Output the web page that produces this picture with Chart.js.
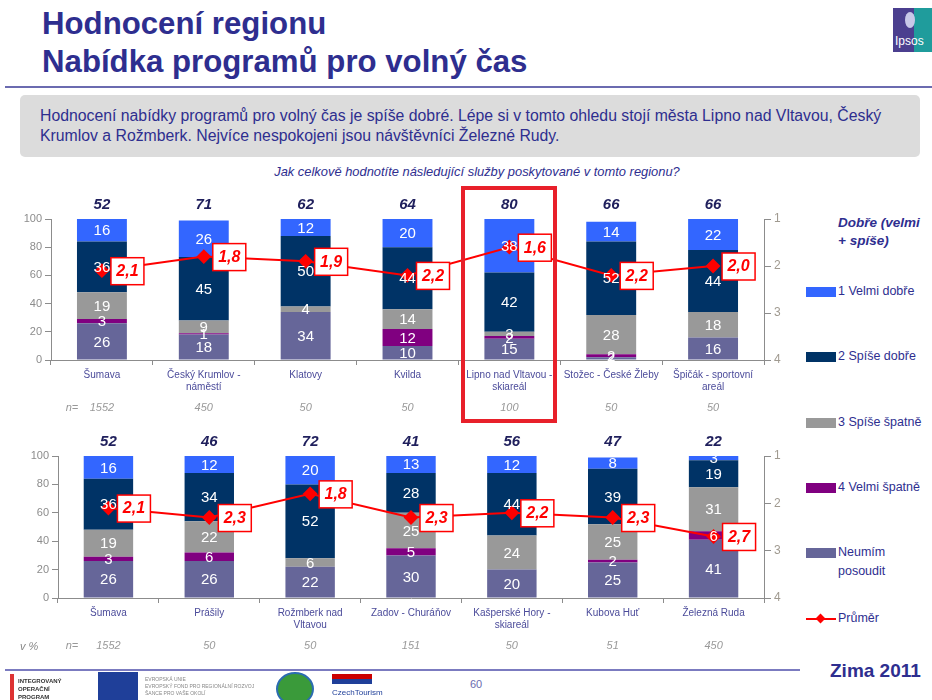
<!DOCTYPE html>
<html lang="cs">
<head>
<meta charset="utf-8">
<script src="https://cdn.jsdelivr.net/npm/chart.js@4.4.1/dist/chart.umd.min.js"></script>
<style>
  body { margin: 0; width: 932px; height: 700px; position: relative; overflow: hidden; background: #fff; font-family: "Liberation Sans", Arial, sans-serif; }
  .abs { position: absolute; }
  .title { left: 42px; color: #2e2e8f; font-family: "Liberation Sans Narrow", "Liberation Sans", Arial, sans-serif; font-weight: bold; font-size: 32px; line-height: 38px; top: 4px; transform: scaleX(0.975); transform-origin: left top; white-space: nowrap; }
  .rule { left: 5px; right: 0; top: 86px; height: 2px; background: #6b6bb0; }
  .box { left: 20px; top: 95px; width: 900px; height: 62px; background: #dcdcdc; border-radius: 5px; }
  .boxtext { left: 40px; top: 106px; width: 870px; color: #2e2e8f; font-size: 15.8px; line-height: 20px; }
  .question { left: 0; width: 954px; top: 164px; text-align: center; color: #2e2e8f; font-style: italic; font-size: 12.9px; }
  .legend { left: 806px; color: #2e2e8f; font-size: 12.5px; line-height: 19px; }
  .sw { position: absolute; left: 0; width: 30px; height: 10px; }
  .lt { position: absolute; left: 32px; white-space: nowrap; }
  canvas { position: absolute; left: 0; }
</style>
</head>
<body>
<div class="abs title">Hodnocení regionu<br>Nabídka programů pro volný čas</div>
<div class="abs" style="left:893px;top:8px;width:39px;height:44px;background:linear-gradient(90deg,#4b3f8f 0 55%,#1f9c9c 55%);"></div>
<div class="abs" style="left:905px;top:12px;width:10px;height:16px;border-radius:50%;background:#c8c8e8;"></div>
<div class="abs" style="left:895px;top:34px;color:#fff;font-size:12px;">Ipsos</div>
<div class="abs rule"></div>
<div class="abs box"></div>
<div class="abs boxtext">Hodnocení nabídky programů pro volný čas je spíše dobré. Lépe si v tomto ohledu stojí města Lipno nad Vltavou, Český Krumlov a Rožmberk. Nejvíce nespokojeni jsou návštěvníci Železné Rudy.</div>
<div class="abs question">Jak celkově hodnotíte následující služby poskytované v tomto regionu?</div>

<canvas id="chartTop" width="800" height="230" style="top:190px"></canvas>
<canvas id="chartBottom" width="800" height="230" style="top:430px"></canvas>

<div class="abs" style="left:461px;top:186px;width:88px;height:229px;border:4px solid #e8202a;"></div>

<div class="abs legend" style="top:214px;font-weight:bold;font-style:italic;font-size:13.5px;left:838px;line-height:18px;">Dobře (velmi<br>+ spíše)</div>
<div class="abs legend" style="top:282px;"><div class="sw" style="top:5px;background:#3366ff"></div><div class="lt">1 Velmi dobře</div></div>
<div class="abs legend" style="top:347px;"><div class="sw" style="top:5px;background:#003366"></div><div class="lt">2 Spíše dobře</div></div>
<div class="abs legend" style="top:413px;"><div class="sw" style="top:5px;background:#999999"></div><div class="lt">3 Spíše špatně</div></div>
<div class="abs legend" style="top:478px;"><div class="sw" style="top:5px;background:#800080"></div><div class="lt">4 Velmi špatně</div></div>
<div class="abs legend" style="top:543px;"><div class="sw" style="top:5px;background:#666699"></div><div class="lt">Neumím<br>posoudit</div></div>
<div class="abs legend" style="top:609px;"><div class="sw" style="top:9px;height:2px;background:#ff0000"></div><div class="abs" style="left:11px;top:6px;width:7px;height:7px;background:#ff0000;transform:rotate(45deg);"></div><div class="lt">Průměr</div></div>

<div class="abs" style="left:20px;top:640px;color:#888;font-style:italic;font-size:11px;">v %</div>
<div class="abs" style="left:5px;top:669px;width:795px;height:2px;background:#7b7bc0;"></div>
<div class="abs" style="left:830px;top:660px;color:#2e2e8f;font-weight:bold;font-size:19px;font-family:'Liberation Sans Narrow','Liberation Sans',Arial;">Zima 2011</div>
<div class="abs" style="left:470px;top:678px;color:#6b6bb0;font-size:11px;">60</div>
<div class="abs" style="left:10px;top:674px;width:4px;height:26px;background:#d33;"></div>
<div class="abs" style="left:18px;top:677px;font-size:6px;line-height:8px;font-weight:bold;color:#333;">INTEGROVANÝ<br>OPERAČNÍ<br>PROGRAM</div>
<div class="abs" style="left:98px;top:672px;width:40px;height:28px;background:#1f3f99;"></div>
<div class="abs" style="left:145px;top:676px;font-size:5px;line-height:7px;color:#888;">EVROPSKÁ UNIE<br>EVROPSKÝ FOND PRO REGIONÁLNÍ ROZVOJ<br>ŠANCE PRO VAŠE OKOLÍ</div>
<div class="abs" style="left:276px;top:672px;width:34px;height:30px;border-radius:50%;background:#3a9a3a;border:2px solid #2b6cb0;"></div>
<div class="abs" style="left:332px;top:674px;width:40px;height:10px;background:linear-gradient(180deg,#c00 0 50%,#1f3f99 50%);"></div>
<div class="abs" style="left:332px;top:688px;font-size:8px;color:#1f3f99;">CzechTourism</div>

<script>
// horní graf
const topCategories = [["Šumava"], ["Český Krumlov -", "náměstí"], ["Klatovy"], ["Kvilda"], ["Lipno nad Vltavou -", "skiareál"], ["Stožec - České Žleby"], ["Špičák - sportovní", "areál"]];
const topVelmiDobre = [16, 26, 12, 20, 38, 14, 22];
const topSpiseDobre = [36, 45, 50, 44, 42, 52, 44];
const topSpiseSpatne = [19, 9, 4, 14, 3, 28, 18];
const topVelmiSpatne = [3, 1, 0, 12, 2, 2, 0];
const topNeumim = [26, 18, 34, 10, 15, 2, 16];
const topPrumer = [2.1, 1.8, 1.9, 2.2, 1.6, 2.2, 2.0];
const topDobre = [52, 71, 62, 64, 80, 66, 66];
const topN = [1552, 450, 50, 50, 100, 50, 50];

// dolní graf
const bottomCategories = [["Šumava"], ["Prášily"], ["Rožmberk nad", "Vltavou"], ["Zadov - Churáňov"], ["Kašperské Hory -", "skiareál"], ["Kubova Huť"], ["Železná Ruda"]];
const bottomVelmiDobre = [16, 12, 20, 13, 12, 8, 3];
const bottomSpiseDobre = [36, 34, 52, 28, 44, 39, 19];
const bottomSpiseSpatne = [19, 22, 6, 25, 24, 25, 31];
const bottomVelmiSpatne = [3, 6, 0, 5, 0, 2, 6];
const bottomNeumim = [26, 26, 22, 30, 20, 25, 41];
const bottomPrumer = [2.1, 2.3, 1.8, 2.3, 2.2, 2.3, 2.7];
const bottomDobre = [52, 46, 72, 41, 56, 47, 22];
const bottomN = [1552, 50, 50, 151, 50, 51, 450];

const FONT = '"Liberation Sans", Arial, sans-serif';
Chart.defaults.font.family = FONT;

// popisky segmentů, průměrů, součtů a n=
const labelsPlugin = {
    id: "labelsPlugin",
    afterDatasetsDraw(chart, args, opts) {
        const c = chart.ctx;
        const area = chart.chartArea;
        c.save();
        c.textAlign = "center";
        c.textBaseline = "middle";

        // hodnoty v segmentech
        c.font = "15px " + FONT;
        c.fillStyle = "#ffffff";
        chart.data.datasets.forEach((ds, i) => {
            if (ds.type === "line") return;
            const meta = chart.getDatasetMeta(i);
            meta.data.forEach((el, j) => {
                const v = ds.data[j];
                if (!v) return;
                c.fillText(String(v), el.x, (el.y + el.base) / 2 + 1);
            });
        });

        // průměr
        const lineIndex = chart.data.datasets.findIndex((d) => d.type === "line");
        const lineMeta = chart.getDatasetMeta(lineIndex);
        c.font = "bold italic 16px " + FONT;
        lineMeta.data.forEach((el, j) => {
            const txt = chart.data.datasets[lineIndex].data[j].toFixed(1).replace(".", ",");
            const bx = el.x + 9, by = el.y - 13, bw = 33, bh = 27;
            c.fillStyle = "#ffffff";
            c.fillRect(bx, by, bw, bh);
            c.strokeStyle = "#ff0000";
            c.lineWidth = 1.5;
            c.strokeRect(bx, by, bw, bh);
            c.fillStyle = "#ff0000";
            c.fillText(txt, bx + bw / 2, el.y + 1);
        });

        // dobře celkem + n
        const firstMeta = chart.getDatasetMeta(0);
        firstMeta.data.forEach((el, j) => {
            c.font = "bold italic 15px " + FONT;
            c.fillStyle = "#1f1f5c";
            c.fillText(String(opts.sums[j]), el.x, area.top - 14);
            c.font = "italic 11px " + FONT;
            c.fillStyle = "#999999";
            c.fillText(String(opts.n[j]), el.x, area.bottom + 48);
        });
        c.fillText("n=", 72, area.bottom + 48);
        c.restore();
    },
};

function makeChart(id, categories, vd, sd, ss, vs, ne, prumer, sums, n, leftWidth) {
    const bar = (label, data, color) => ({
        type: "bar",
        label: label,
        data: data,
        backgroundColor: color,
        borderWidth: 0,
        barPercentage: 0.49,
        categoryPercentage: 1,
        yAxisID: "y",
        order: 1,
    });
    const config = {
        data: {
            labels: categories,
            datasets: [
                bar("Neumím posoudit", ne, "#666699"),
                bar("4 Velmi špatně", vs, "#800080"),
                bar("3 Spíše špatně", ss, "#999999"),
                bar("2 Spíše dobře", sd, "#003366"),
                bar("1 Velmi dobře", vd, "#3366ff"),
                {
                    type: "line",
                    label: "Průměr",
                    data: prumer,
                    borderColor: "#ff0000",
                    backgroundColor: "#ff0000",
                    borderWidth: 2,
                    pointStyle: "rectRot",
                    pointRadius: 6,
                    tension: 0,
                    fill: false,
                    yAxisID: "y1",
                    order: 0,
                },
            ],
        },
        options: {
            responsive: false,
            animation: false,
            layout: { padding: { top: id === "chartTop" ? 29 : 26, left: 0, right: 0, bottom: 0 } },
            plugins: {
                legend: { display: false },
                tooltip: { enabled: false },
                labelsPlugin: { sums: sums, n: n },
            },
            scales: {
                x: {
                    stacked: true,
                    offset: true,
                    grid: { display: true, drawOnChartArea: false, offset: true, tickLength: 5, color: "#8c8c8c" },
                    border: { color: "#8c8c8c" },
                    ticks: { color: "#4b4b9a", font: { size: 10 }, maxRotation: 0, autoSkip: false, padding: 4 },
                    afterFit: (s) => { s.height = id === "chartTop" ? 60 : 62; },
                },
                y: {
                    stacked: true,
                    min: 0,
                    max: 100,
                    ticks: { stepSize: 20, color: "#8c8c8c", font: { size: 11 }, padding: 3 },
                    grid: { drawOnChartArea: false, tickLength: 6, color: "#8c8c8c" },
                    border: { color: "#8c8c8c" },
                    afterFit: (s) => { s.width = leftWidth; },
                },
                y1: {
                    position: "right",
                    reverse: true,
                    min: 1,
                    max: 4,
                    ticks: { stepSize: 1, color: "#a09a90", font: { size: 12 }, padding: 3 },
                    grid: { drawOnChartArea: false, tickLength: 7, color: "#8c8c8c" },
                    border: { color: "#8c8c8c" },
                    afterFit: (s) => { s.width = 36; },
                },
            },
        },
        plugins: [labelsPlugin],
    };
    return new Chart(document.getElementById(id).getContext("2d"), config);
}

makeChart("chartTop", topCategories, topVelmiDobre, topSpiseDobre, topSpiseSpatne, topVelmiSpatne, topNeumim, topPrumer, topDobre, topN, 51);
makeChart("chartBottom", bottomCategories, bottomVelmiDobre, bottomSpiseDobre, bottomSpiseSpatne, bottomVelmiSpatne, bottomNeumim, bottomPrumer, bottomDobre, bottomN, 58);
</script>
</body>
</html>
